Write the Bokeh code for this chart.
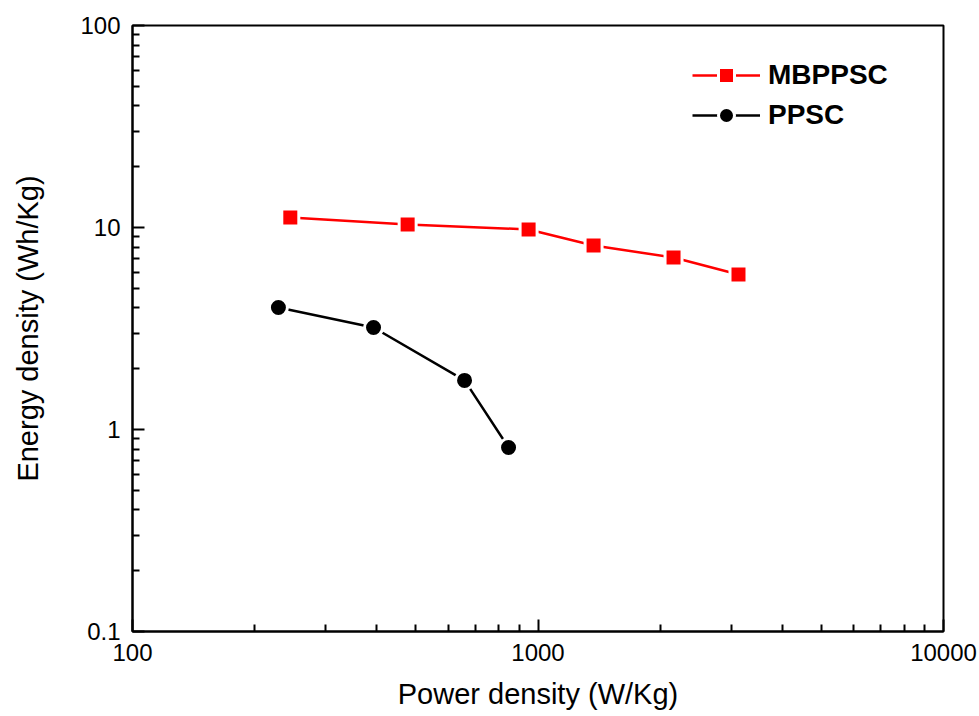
from bokeh.plotting import figure
from bokeh.models import (FixedTicker, CustomJSTickFormatter, Legend, LegendItem,
                          Range1d, ColumnDataSource)
from bokeh.embed import file_html
from bokeh.resources import INLINE

# ---- data ----
mb_power = [245, 477, 948, 1371, 2159, 3122]
mb_energy = [11.2, 10.35, 9.78, 8.15, 7.10, 5.85]
pp_power = [229, 393, 659, 846]
pp_energy = [4.02, 3.20, 1.75, 0.814]

x_ticks = [100, 1000, 10000]
y_ticks = [0.1, 1, 10, 100]
x_minor = [m * d for d in (100, 1000) for m in range(2, 10)]
y_minor = [m * d for d in (0.1, 1, 10) for m in range(2, 10)]

FONT = "Liberation Sans"

p = figure(width=979, height=716, x_axis_type="log", y_axis_type="log",
           x_range=Range1d(100, 10000), y_range=Range1d(0.1, 100),
           output_backend="svg", toolbar_location=None,
           min_border_left=132, min_border_right=36,
           min_border_top=25, min_border_bottom=85)

p.background_fill_color = "white"
p.border_fill_color = "white"
p.grid.visible = False
p.outline_line_color = "black"
p.outline_line_width = 2

for ax, ticks, minor in ((p.xaxis[0], x_ticks, x_minor), (p.yaxis[0], y_ticks, y_minor)):
    ax.ticker = FixedTicker(ticks=ticks, minor_ticks=minor)
    ax.formatter = CustomJSTickFormatter(code="return tick.toString();")
    ax.major_tick_in = 12
    ax.major_tick_out = 0
    ax.minor_tick_in = 7
    ax.minor_tick_out = 0
    ax.major_tick_line_width = 2
    ax.minor_tick_line_width = 2
    ax.axis_line_width = 2
    ax.major_label_text_font = FONT
    ax.major_label_text_font_size = "24px"
    ax.major_label_text_color = "black"
    ax.axis_label_text_font = FONT
    ax.axis_label_text_font_size = "29px"
    ax.axis_label_text_font_style = "normal"
    ax.axis_label_text_color = "black"
    ax.major_label_standoff = 12

p.xaxis.axis_label = "Power density (W/Kg)"
p.yaxis.axis_label = "Energy density (Wh/Kg)"
p.xaxis.axis_label_standoff = 14
p.yaxis.axis_label_standoff = 33

src_mb = ColumnDataSource(dict(x=mb_power, y=mb_energy))
src_pp = ColumnDataSource(dict(x=pp_power, y=pp_energy))

l1 = p.line("x", "y", source=src_mb, line_color="#ff0000", line_width=2.5)
s1 = p.scatter("x", "y", source=src_mb, marker="square", size=17,
               fill_color="#ff0000", line_color="white", line_width=3)
l2 = p.line("x", "y", source=src_pp, line_color="black", line_width=2.5)
s2 = p.scatter("x", "y", source=src_pp, marker="circle", size=18,
               fill_color="black", line_color="white", line_width=3)

legend = Legend(items=[LegendItem(label="MBPPSC", renderers=[l1, s1]),
                       LegendItem(label="PPSC", renderers=[l2, s2])],
                location=(560, 496), padding=0, margin=0,
                glyph_width=68, glyph_height=40, label_height=30,
                spacing=-6, label_standoff=8,
                label_text_font=FONT, label_text_font_size="28px",
                label_text_font_style="bold", label_text_color="black",
                border_line_color=None, background_fill_alpha=0)
p.add_layout(legend, "center")

open("out.html", "w").write(file_html(p, INLINE))
